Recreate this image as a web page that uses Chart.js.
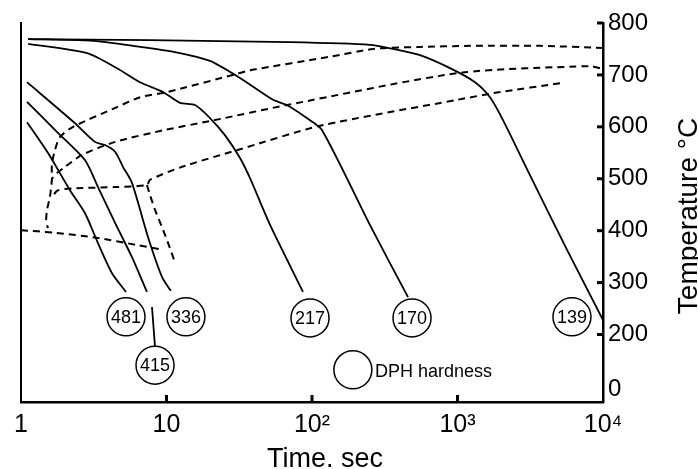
<!DOCTYPE html>
<html>
<head>
<meta charset="utf-8">
<script src="https://cdn.jsdelivr.net/npm/chart.js@4/dist/chart.umd.min.js"></script>
<style>
  html, body { margin: 0; padding: 0; background: #fff; }
</style>
</head>
<body>
<canvas id="cct" width="698" height="469"></canvas>
<script>
// cooling curves, [time s, temperature °C]
const curve139 = [[1.12,769],[7.7,767],[70,763],[250,758],[360,750],[552,738],[888,713],[1319,686],[1672,657],[2055,613],[3148,507],[5660,363],[10000,228]];
const curve170 = [[1.12,769],[3.0,766],[6.6,754],[11.4,744],[19.9,727],[32,694],[54,652],[67,642],[92,617],[117,594],[250,411],[457,272]];
const curve217 = [[1.12,760],[2.84,742],[4.57,713],[6.58,686],[9.46,667],[12.4,646],[15.7,642],[19.9,617],[25.2,584],[32,540],[37.5,501],[51.5,411],[86.7,282]];
const curve336 = [[1.10,686],[2.35,607],[3.22,571],[3.78,565],[4.43,552],[5.02,523],[5.79,492],[7.46,388],[9.31,311],[10.7,284]];
const curve415 = [[1.10,648],[1.80,588],[2.75,536],[3.38,484],[4.43,415],[5.79,349],[7.34,282]];
const curve481 = [[1.10,609],[1.53,550],[2.17,478],[2.75,434],[3.38,376],[4.22,318],[5.27,282]];
const leader415 = [[7.95,253],[8.34,176]];

// transformation start / finish lines (dashed)
const dashTop = [[10000,752],[3690,756],[1219,756],[552,754],[344,752],[263,750],[133,735],[37.5,709],[30.5,702],[10.1,667],[6.58,657],[4.57,638],[2.28,600],[1.85,580],[1.71,555],[1.63,527],[1.63,498],[1.58,465],[1.51,440],[1.49,421],[1.53,405]];
const dashMid = [[9530,713],[8140,717],[1040,704],[67.3,642],[21.5,613],[9.77,594],[4.43,571],[2.63,546],[2.01,523],[1.77,511],[1.63,500]];
const dashLow = [[5060,684],[1960,667],[993,652],[114,602],[30.5,555],[12.8,523],[7.7,498],[7.34,488],[4.43,484],[2.63,482],[1.80,478],[1.63,465]];
const dashBainite = [[7.34,488],[7.7,469],[8.34,440],[9.31,407],[10.2,378],[11.4,340]];
const dashMs = [[1.0,401],[1.71,396],[3.38,386],[6.37,372],[9.46,363]];

// hardness circles
const circleLabels = ['481','415','336','217','170','139',''];
const circleTimes = [5.27, 8.34, 13.6, 96.9, 487, 6120, 191];
const circleTemps = [234, 141, 234, 232, 232, 234, 132];

const xTicks = [1, 10, 100, 1000, 10000];
const xTickLabels = ['1', '10', '10\u00B2', '10\u00B3', '10\u2074'];
const xMarks = [10, 100, 1000];
const yTicks = [95, 200, 300, 400, 500, 600, 700, 800];
const yTickLabels = ['0', '200', '300', '400', '500', '600', '700', '800'];
const yMarks = [200, 300, 400, 500, 600, 700, 800];

const FONT = '"Liberation Sans", Arial, sans-serif';

const line = (pts, dashed) => ({
  data: pts.map(([x, y]) => ({ x, y })),
  showLine: true,
  borderColor: '#000',
  borderWidth: dashed ? 2 : 1.8,
  borderDash: dashed ? [7, 5] : [],
  pointRadius: 0,
  tension: 0.25,
  fill: false
});

const extras = {
  id: 'extras',
  afterDraw(chart) {
    const { ctx, chartArea: a, scales: { x, y } } = chart;
    ctx.save();
    ctx.strokeStyle = '#000';
    ctx.lineWidth = 3;
    xMarks.forEach(v => {
      const px = x.getPixelForValue(v);
      ctx.beginPath(); ctx.moveTo(px, a.bottom); ctx.lineTo(px, a.bottom - 7); ctx.stroke();
    });
    yMarks.forEach(v => {
      const py = y.getPixelForValue(v);
      ctx.beginPath(); ctx.moveTo(a.right, py); ctx.lineTo(a.right - 6, py); ctx.stroke();
    });

    ctx.fillStyle = '#000';
    ctx.font = '18px ' + FONT;
    ctx.textAlign = 'center';
    ctx.textBaseline = 'middle';
    const meta = chart.getDatasetMeta(0);
    meta.data.forEach((pt, i) => ctx.fillText(circleLabels[i], pt.x, pt.y + 1));
    const key = meta.data[6];
    ctx.textAlign = 'left';
    ctx.fillText('DPH hardness', key.x + 22, key.y + 2);

    ctx.textBaseline = 'alphabetic';
    ctx.textAlign = 'center';
    ctx.font = '27px ' + FONT;
    ctx.fillText('Time. sec', 325, 467);

    ctx.translate(697, 216);
    ctx.rotate(-Math.PI / 2);
    ctx.font = '28px ' + FONT;
    ctx.fillText('Temperature \u00B0C', 0, 0);
    ctx.restore();
  }
};

new Chart(document.getElementById('cct'), {
  type: 'scatter',
  data: {
    datasets: [
      {
        data: circleTimes.map((t, i) => ({ x: t, y: circleTemps[i] })),
        pointRadius: 19,
        pointBackgroundColor: '#fff',
        pointBorderColor: '#000',
        pointBorderWidth: 1.5,
        showLine: false,
        order: -1
      },
      line(curve139), line(curve170), line(curve217),
      line(curve336), line(curve415), line(curve481), line(leader415),
      line(dashTop, true), line(dashMid, true), line(dashLow, true),
      line(dashBainite, true), line(dashMs, true)
    ]
  },
  options: {
    responsive: false,
    animation: false,
    layout: { padding: { left: 21, top: 23, right: 0, bottom: 0 } },
    plugins: { legend: { display: false }, tooltip: { enabled: false } },
    scales: {
      x: {
        type: 'logarithmic',
        min: 1,
        max: 10000,
        grid: { display: false, drawTicks: false },
        border: { color: '#000', width: 2.5 },
        afterBuildTicks: s => { s.ticks = xTicks.map(v => ({ value: v })); },
        afterFit: s => { s.height = 67; },
        ticks: {
          autoSkip: false,
          maxRotation: 0,
          padding: 8,
          color: '#000',
          font: { family: FONT, size: 25 },
          callback: (v, i) => xTickLabels[i]
        }
      },
      y: {
        position: 'right',
        min: 70,
        max: 800,
        grid: { display: false, drawTicks: false },
        border: { color: '#000', width: 2.5 },
        afterBuildTicks: s => { s.ticks = yTicks.map(v => ({ value: v })); },
        afterFit: s => { s.width = 95; },
        ticks: {
          autoSkip: false,
          padding: 5,
          color: '#000',
          font: { family: FONT, size: 24 },
          callback: (v, i) => yTickLabels[i]
        }
      },
      yl: {
        position: 'left',
        grid: { display: false, drawTicks: false },
        border: { color: '#000', width: 2 },
        ticks: { display: false },
        afterFit: s => { s.width = 0; }
      }
    }
  },
  plugins: [extras]
});
</script>
</body>
</html>
